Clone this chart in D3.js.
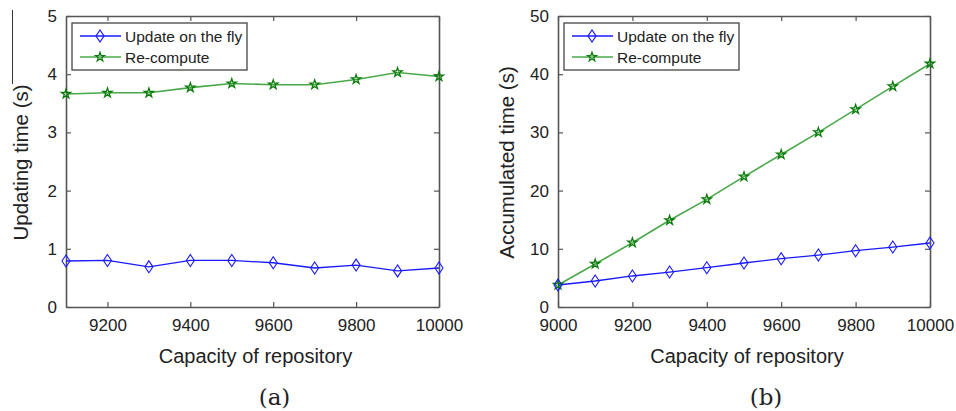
<!DOCTYPE html>
<html>
<head>
<meta charset="utf-8">
<script src="https://cdn.jsdelivr.net/npm/d3@7"></script>
<style>
  html, body { margin: 0; padding: 0; background: #fff; }
  svg { display: block; }
  text { font-family: "Liberation Sans", Arial, sans-serif; fill: #222; }
</style>
</head>
<body>
<svg id="chart" width="956" height="411"></svg>
<script>
// ---- Data ----
const capacityA = [9100, 9200, 9300, 9400, 9500, 9600, 9700, 9800, 9900, 10000];
const updateA   = [0.79, 0.80, 0.69, 0.80, 0.80, 0.76, 0.67, 0.72, 0.62, 0.67];
const recomputeA= [3.66, 3.68, 3.68, 3.77, 3.84, 3.82, 3.82, 3.91, 4.03, 3.96];

const capacityB = [9000, 9100, 9200, 9300, 9400, 9500, 9600, 9700, 9800, 9900, 10000];
const updateB   = [3.78, 4.47, 5.33, 6.01, 6.75, 7.56, 8.30, 8.93, 9.67, 10.3, 11.0];
const recomputeB= [3.78, 7.39, 11.05, 14.9, 18.5, 22.4, 26.2, 30.0, 33.96, 37.9, 41.8];

const xTicksA = [9200, 9400, 9600, 9800, 10000];
const xTicksB = [9000, 9200, 9400, 9600, 9800, 10000];
const yTicksA = [0, 1, 2, 3, 4, 5];
const yTicksB = [0, 10, 20, 30, 40, 50];
const seriesNames = ["Update on the fly", "Re-compute"];

const svg = d3.select("#chart");
const BLUE = "#1a1aff", GREEN_LINE = "#4aa84a", GREEN_MK = "#0a7a0a";
const AXIS = "#555";

function diamond(w, h) {
  return `M0,${-h/2}L${w/2},0L0,${h/2}L${-w/2},0Z`;
}
const starPath = d3.symbol().type(d3.symbolStar).size(26)();

function panel(opts) {
  const { x0, x1, y0, y1, xDomain, yDomain, xTicks, yTicks, xs, ups, rcs,
          yLabel, yLabelX, sub, legendX } = opts;
  const g = svg.append("g");
  const x = d3.scaleLinear().domain(xDomain).range([x0, x1]);
  const y = d3.scaleLinear().domain(yDomain).range([y1, y0]);

  // axes (ticks inward)
  const bottom = g.append("g").attr("transform", `translate(0,${y1})`)
    .call(d3.axisBottom(x).tickValues(xTicks).tickSizeInner(-5).tickSizeOuter(0).tickPadding(12).tickFormat(d3.format("d")));
  const left = g.append("g").attr("transform", `translate(${x0},0)`)
    .call(d3.axisLeft(y).tickValues(yTicks).tickSizeInner(-5).tickSizeOuter(0).tickPadding(9).tickFormat(d3.format("d")));
  const top = g.append("g").attr("transform", `translate(0,${y0})`)
    .call(d3.axisTop(x).tickValues(xTicks).tickSizeInner(-5).tickSizeOuter(0).tickFormat(""));
  const right = g.append("g").attr("transform", `translate(${x1},0)`)
    .call(d3.axisRight(y).tickValues(yTicks).tickSizeInner(-5).tickSizeOuter(0).tickFormat(""));
  [bottom, left, top, right].forEach(a => {
    a.select(".domain").attr("stroke", AXIS).attr("stroke-width", 1.6);
    a.selectAll(".tick line").attr("stroke", AXIS).attr("stroke-width", 1.2);
    a.selectAll(".tick text").attr("font-size", 17).attr("fill", "#222")
      .attr("font-family", "Liberation Sans, Arial, sans-serif");
  });

  const line = d3.line().x((d, i) => x(xs[i])).y(d => y(d));
  g.append("path").datum(rcs).attr("d", line).attr("fill", "none")
    .attr("stroke", GREEN_LINE).attr("stroke-width", 1.6);
  g.append("path").datum(ups).attr("d", line).attr("fill", "none")
    .attr("stroke", BLUE).attr("stroke-width", 1.3);

  g.selectAll(".mk-g").data(rcs).enter().append("path")
    .attr("d", starPath)
    .attr("transform", (d, i) => `translate(${x(xs[i])},${y(d)})`)
    .attr("fill", "none").attr("stroke", GREEN_MK).attr("stroke-width", 1.3);
  g.selectAll(".mk-b").data(ups).enter().append("path")
    .attr("d", diamond(8, 12))
    .attr("transform", (d, i) => `translate(${x(xs[i])},${y(d)})`)
    .attr("fill", "none").attr("stroke", BLUE).attr("stroke-width", 1.1);

  // labels
  g.append("text").attr("x", (x0 + x1) / 2 + 3).attr("y", 363)
    .attr("text-anchor", "middle").attr("font-size", 20).text("Capacity of repository");
  g.append("text").attr("transform", `translate(${yLabelX},${(y0 + y1) / 2 + 1}) rotate(-90)`)
    .attr("text-anchor", "middle").attr("font-size", 20.5).text(yLabel);
  g.append("text").attr("x", (x0 + x1) / 2 + 22).attr("y", 405)
    .attr("text-anchor", "middle").attr("font-size", 23)
    .style("font-family", "'DejaVu Serif', 'Liberation Serif', serif").text(sub);

  // legend
  const lg = g.append("g").attr("transform", `translate(${legendX},23)`);
  lg.append("rect").attr("width", 175).attr("height", 47).attr("fill", "#fff")
    .attr("stroke", "#444").attr("stroke-width", 1.3);
  const rows = [
    { name: seriesNames[0], color: BLUE, mk: diamond(8, 12), mkc: BLUE, lw: 1.3 },
    { name: seriesNames[1], color: GREEN_LINE, mk: starPath, mkc: GREEN_MK, lw: 1.6 }
  ];
  rows.forEach((r, i) => {
    const yy = 13 + i * 21;
    lg.append("line").attr("x1", 8).attr("x2", 49).attr("y1", yy).attr("y2", yy)
      .attr("stroke", r.color).attr("stroke-width", r.lw);
    lg.append("path").attr("d", r.mk).attr("transform", `translate(28,${yy})`)
      .attr("fill", "none").attr("stroke", r.mkc).attr("stroke-width", 1.2);
    lg.append("text").attr("x", 53).attr("y", yy + 5.5).attr("font-size", 15.5).text(r.name);
  });
}

panel({ x0: 66, x1: 439, y0: 16, y1: 307, xDomain: [9100, 10000], yDomain: [0, 5],
        xTicks: xTicksA, yTicks: yTicksA, xs: capacityA, ups: updateA, rcs: recomputeA,
        yLabel: "Updating time (s)", yLabelX: 28, sub: "(a)", legendX: 72 });
panel({ x0: 558, x1: 930, y0: 16, y1: 307, xDomain: [9000, 10000], yDomain: [0, 50],
        xTicks: xTicksB, yTicks: yTicksB, xs: capacityB, ups: updateB, rcs: recomputeB,
        yLabel: "Accumulated time (s)", yLabelX: 514, sub: "(b)", legendX: 564 });

// stray vertical rule at far left (scan artefact)
svg.append("line").attr("x1", 12.5).attr("x2", 12.5).attr("y1", 10).attr("y2", 84)
  .attr("stroke", "#333").attr("stroke-width", 1);
</script>
</body>
</html>
